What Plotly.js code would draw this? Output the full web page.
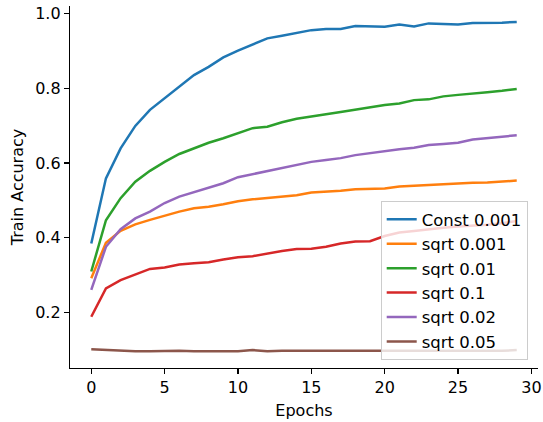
<!DOCTYPE html>
<html>
<head>
<meta charset="utf-8">
<script src="https://cdn.plot.ly/plotly-3.0.1.min.js"></script>
<style>html,body{margin:0;padding:0;background:#fff;}#chart{width:543px;height:422px;}</style>
</head>
<body>
<div id="chart"></div>
<script>
const epochs = [0,1,2,3,4,5,6,7,8,9,10,11,12,13,14,15,16,17,18,19,20,21,22,23,24,25,26,27,28,29];
const seriesNames = ["Const 0.001","sqrt 0.001","sqrt 0.01","sqrt 0.1","sqrt 0.02","sqrt 0.05"];
const const0001 = [0.385,0.559,0.639,0.699,0.742,0.773,0.802,0.835,0.857,0.882,0.900,0.917,0.933,0.940,0.947,0.955,0.958,0.958,0.966,0.964,0.964,0.970,0.965,0.973,0.971,0.970,0.974,0.974,0.975,0.977];
const sqrt0001 = [0.292,0.387,0.419,0.436,0.448,0.460,0.470,0.479,0.483,0.490,0.498,0.503,0.507,0.512,0.514,0.521,0.523,0.526,0.530,0.530,0.532,0.537,0.539,0.541,0.544,0.547,0.547,0.548,0.550,0.553];
const sqrt001 = [0.310,0.447,0.506,0.550,0.579,0.603,0.624,0.639,0.654,0.666,0.679,0.693,0.697,0.709,0.718,0.725,0.730,0.736,0.743,0.750,0.755,0.759,0.768,0.770,0.778,0.782,0.785,0.789,0.793,0.798];
const sqrt01 = [0.189,0.265,0.287,0.303,0.317,0.321,0.329,0.332,0.335,0.342,0.348,0.351,0.359,0.365,0.370,0.371,0.376,0.385,0.390,0.391,0.405,0.414,0.418,0.423,0.427,0.430,0.432,0.435,0.439,0.445];
const sqrt002 = [0.261,0.376,0.423,0.452,0.470,0.493,0.510,0.522,0.535,0.546,0.562,0.570,0.577,0.587,0.595,0.603,0.608,0.613,0.621,0.627,0.633,0.637,0.641,0.648,0.651,0.654,0.663,0.666,0.669,0.674];
const sqrt005 = [0.102,0.100,0.098,0.097,0.097,0.098,0.098,0.097,0.097,0.099,0.097,0.100,0.097,0.098,0.098,0.098,0.097,0.099,0.098,0.097,0.098,0.098,0.097,0.098,0.098,0.097,0.098,0.098,0.098,0.100];
const xTicks = [0,5,10,15,20,25,30];
const yTicks = [0.2,0.4,0.6,0.8,1.0];
const yTickText = ["0.2","0.4","0.6","0.8","1.0"];

const colors = ["#1f77b4","#ff7f0e","#2ca02c","#d62728","#9467bd","#8c564b"];
const allSeries = [const0001, sqrt0001, sqrt001, sqrt01, sqrt002, sqrt005];

const traces = allSeries.map((ys, i) => ({
  x: epochs, y: ys, type: "scatter", mode: "lines",
  name: seriesNames[i], legendgroup: "g" + i,
  line: {color: colors[i], width: 2.5}
}));

const font = {family: "DejaVu Sans, sans-serif", size: 16, color: "#000"};
const legendFont = {family: "DejaVu Sans, sans-serif", size: 16.5, color: "#000"};

const layout = {
  width: 543, height: 422,
  margin: {l: 70, r: 5, t: 6, b: 54},
  paper_bgcolor: "#fff", plot_bgcolor: "#fff",
  font: font,
  showlegend: true,
  legend: {
    x: 0.978, y: 0.022, xanchor: "right", yanchor: "bottom",
    bgcolor: "rgba(255,255,255,0.8)", bordercolor: "#cccccc", borderwidth: 1,
    font: legendFont, tracegroupgap: 0, traceorder: "grouped"
  },
  xaxis: {
    range: [-1.45, 30.45], tickvals: xTicks, ticktext: xTicks.map(String),
    showgrid: false, zeroline: false, showline: true, linecolor: "#000", linewidth: 1.2,
    ticks: "outside", ticklen: 5, tickwidth: 1.2, tickcolor: "#000",
    tickfont: font,
    title: {text: "Epochs", font: font, standoff: 8}
  },
  yaxis: {
    range: [0.0522, 1.0195], tickvals: yTicks, ticktext: yTickText,
    showgrid: false, zeroline: false, showline: true, linecolor: "#000", linewidth: 1.2,
    ticks: "outside", ticklen: 5, tickwidth: 1.2, tickcolor: "#000",
    tickfont: font,
    title: {text: "Train Accuracy", font: font, standoff: 7}
  }
};

Plotly.newPlot("chart", traces, layout, {displayModeBar: false, staticPlot: true});
</script>
</body>
</html>
